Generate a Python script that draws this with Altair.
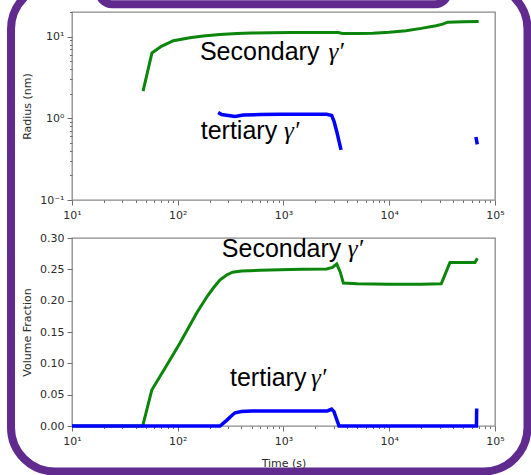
import altair as alt
import pandas as pd

# ---------------- data ----------------
# Secondary gamma' mean radius (nm) against time (s)
sec_r_time = [47, 57, 70, 91, 130, 174, 250, 364, 500, 762, 1200, 2000, 3000, 3300,
              3600, 5000, 7000, 10000, 14400, 20000, 27700, 32000, 35700, 50000, 70000]
sec_r_val = [2.15, 6.3, 7.6, 8.9, 9.7, 10.2, 10.6, 10.9, 11.05, 11.15, 11.2, 11.25, 11.25, 11.2,
             10.9, 10.9, 11.0, 11.3, 11.8, 12.6, 13.6, 14.2, 15.0, 15.2, 15.3]

# Tertiary gamma' mean radius (nm): two separate segments
ter_r_time = [241, 260, 300, 348, 417, 600, 927, 1500, 2560, 2855, 3005, 3186, 3500, 66000, 68000]
ter_r_val = [1.18, 1.11, 1.08, 1.05, 1.10, 1.11, 1.12, 1.12, 1.12, 1.08, 0.92, 0.69, 0.41, 0.59, 0.48]
ter_r_seg = [0, 0, 0, 0, 0, 0, 0, 0, 0, 0, 0, 0, 0, 1, 1]

# Secondary gamma' volume fraction
sec_f_time = [10, 46.6, 56.8, 80, 105, 151, 190, 217, 250, 290, 330, 400, 600, 927, 1500, 2560,
              2900, 3186, 3450, 3680, 5000, 10000, 20000, 31000, 33000, 37500, 50000, 64700, 68100]
sec_f_val = [0, 0, 0.0574, 0.099, 0.1324, 0.1803, 0.207, 0.2202, 0.233, 0.241, 0.2455, 0.2475,
             0.2485, 0.2494, 0.2500, 0.2505, 0.2530, 0.2585, 0.245, 0.228, 0.227, 0.226, 0.226,
             0.227, 0.238, 0.261, 0.261, 0.261, 0.2676]

# Tertiary gamma' volume fraction
ter_f_time = [10, 251, 290, 330, 348, 400, 500, 1000, 2000, 2600, 2850, 3000, 3350, 10000, 66800, 67100]
ter_f_val = [0, 0, 0.009, 0.018, 0.021, 0.023, 0.024, 0.024, 0.024, 0.024, 0.027, 0.023, 0, 0, 0, 0.028]

# Annotation anchors (time, value) for each panel
top_label_time = [162, 165]
top_label_val = [5.19, 0.559]
top_label_text = ["Secondary", "tertiary"]
top_gamma_time = [2660, 1011]

bot_label_time = [261, 312]
bot_label_val = [0.2703, 0.0633]
bot_label_text = ["Secondary", "tertiary"]
bot_gamma_time = [4050, 1820]

# Axis ticks
x_ticks = [10, 20, 30, 40, 50, 60, 70, 80, 90,
           100, 200, 300, 400, 500, 600, 700, 800, 900,
           1000, 2000, 3000, 4000, 5000, 6000, 7000, 8000, 9000,
           10000, 20000, 30000, 40000, 50000, 60000, 70000, 80000, 90000, 100000]
r_ticks = [0.1, 0.2, 0.3, 0.4, 0.5, 0.6, 0.7, 0.8, 0.9,
           1, 2, 3, 4, 5, 6, 7, 8, 9, 10, 20]
f_tick_count = 6  # 0.00 ... 0.30 in steps of 0.05

GREEN = "#0b850b"
BLUE = "#0000ff"
PURPLE = "#612a8e"
TXT = "#2b2b2b"

W, H = 423, 188

sec_r = pd.DataFrame({"t": sec_r_time, "v": sec_r_val})
ter_r = pd.DataFrame({"t": ter_r_time, "v": ter_r_val, "seg": ter_r_seg})
sec_f = pd.DataFrame({"t": sec_f_time, "v": sec_f_val})
ter_f = pd.DataFrame({"t": ter_f_time, "v": ter_f_val})
top_lab = pd.DataFrame({"t": top_label_time, "v": top_label_val, "s": top_label_text})
top_gam = pd.DataFrame({"t": top_gamma_time, "v": top_label_val, "s": ["γ′", "γ′"]})
bot_lab = pd.DataFrame({"t": bot_label_time, "v": bot_label_val, "s": bot_label_text})
bot_gam = pd.DataFrame({"t": bot_gamma_time, "v": bot_label_val, "s": ["γ′", "γ′"]})
one = pd.DataFrame({"k": [0]})

x_major = "indexof([10, 100, 1000, 10000, 100000], datum.value) >= 0"
x_label_expr = ("datum.value == 10 ? '10¹' : datum.value == 100 ? '10²' : "
                "datum.value == 1000 ? '10³' : datum.value == 10000 ? '10⁴' : "
                "datum.value == 100000 ? '10⁵' : ''")
r_major = "indexof([0.1, 1, 10], datum.value) >= 0"
r_label_expr = ("datum.value == 0.1 ? '10⁻¹' : datum.value == 1 ? '10⁰' : "
                "datum.value == 10 ? '10¹' : ''")

x_scale = alt.Scale(type="log", domain=[10, 100000], nice=False)


def x_axis(title):
    kw = dict(values=x_ticks, labelExpr=x_label_expr, grid=False, domain=False,
              tickSize={"condition": {"test": x_major, "value": 5}, "value": 2.5},
              labelPadding=4, labelFlush=False, labelOverlap=False)
    if title:
        return alt.Axis(title=title, titlePadding=11, **kw)
    return alt.Axis(title=None, **kw)


# ---------------- top panel: radius ----------------
r_scale = alt.Scale(type="log", domain=[0.1, 20], nice=False)
r_axis = alt.Axis(values=r_ticks, labelExpr=r_label_expr, grid=False, domain=False,
                  tickSize={"condition": {"test": r_major, "value": 5}, "value": 2.5},
                  title="Radius (nm)", titlePadding=7, labelPadding=3, labelOverlap=False)

g_top = alt.Chart(sec_r).mark_line(color=GREEN, strokeWidth=3).encode(
    x=alt.X("t:Q", scale=x_scale, axis=x_axis(None)),
    y=alt.Y("v:Q", scale=r_scale, axis=r_axis),
)
b_top = alt.Chart(ter_r).mark_line(color=BLUE, strokeWidth=3.5).encode(
    x="t:Q", y="v:Q", detail="seg:N"
)
t_top = alt.Chart(top_lab).mark_text(font="Liberation Sans", fontSize=25, align="left",
                                     baseline="alphabetic", color="black").encode(
    x="t:Q", y="v:Q", text="s:N")
gm_top = alt.Chart(top_gam).mark_text(font="Liberation Serif", fontSize=25, fontStyle="italic",
                                      align="left", baseline="alphabetic", color="black").encode(
    x="t:Q", y="v:Q", text="s:N")

# rounded purple border around the whole figure, plus the tab at the top edge
frame = alt.Chart(one).mark_rect(filled=False, stroke=PURPLE, strokeWidth=8, cornerRadius=44).encode(
    x=alt.value(-61), x2=alt.value(455.5), y=alt.value(-27), y2=alt.value(459.5)
)
tab = alt.Chart(one).mark_rect(filled=False, stroke=PURPLE, strokeWidth=8, cornerRadius=14).encode(
    x=alt.value(27), x2=alt.value(376), y=alt.value(-34), y2=alt.value(-7.8)
)

top = alt.layer(g_top, b_top, t_top, gm_top, frame, tab).properties(width=W, height=H)

# ---------------- bottom panel: volume fraction ----------------
f_scale = alt.Scale(domain=[0, 0.30], nice=False, zero=False)
f_axis = alt.Axis(tickCount=f_tick_count, format=".2f", grid=False, domain=False, tickSize=5,
                  title="Volume Fraction", titlePadding=7, labelPadding=3, labelOverlap=False)

g_bot = alt.Chart(sec_f).mark_line(color=GREEN, strokeWidth=3).encode(
    x=alt.X("t:Q", scale=x_scale, axis=x_axis("Time (s)")),
    y=alt.Y("v:Q", scale=f_scale, axis=f_axis),
)
b_bot = alt.Chart(ter_f).mark_line(color=BLUE, strokeWidth=3.5).encode(x="t:Q", y="v:Q")
t_bot = alt.Chart(bot_lab).mark_text(font="Liberation Sans", fontSize=25, align="left",
                                     baseline="alphabetic", color="black").encode(
    x="t:Q", y="v:Q", text="s:N")
gm_bot = alt.Chart(bot_gam).mark_text(font="Liberation Serif", fontSize=25, fontStyle="italic",
                                      align="left", baseline="alphabetic", color="black").encode(
    x="t:Q", y="v:Q", text="s:N")

bottom = alt.layer(g_bot, b_bot, t_bot, gm_bot).properties(width=W, height=H)

# The concat reports its column width as the view width, so the padding
# carries the remaining space of the 531 x 475 figure.
chart = alt.vconcat(top, bottom, spacing=38, bounds="flush").properties(
    autosize=alt.AutoSizeParams(type="none"),
    padding={"left": 72, "top": 12, "right": 36, "bottom": 463},
    background="white",
).configure_view(
    stroke="#8a8a8a", strokeWidth=1.3
).configure_axis(
    labelFont="DejaVu Sans", labelFontSize=11, labelColor=TXT,
    titleFont="DejaVu Sans", titleFontSize=11, titleColor=TXT, titleFontWeight="normal",
    tickColor="#6e6e6e", tickWidth=1,
)

chart.save("out.html", embed_options={"renderer": "svg", "actions": False})
